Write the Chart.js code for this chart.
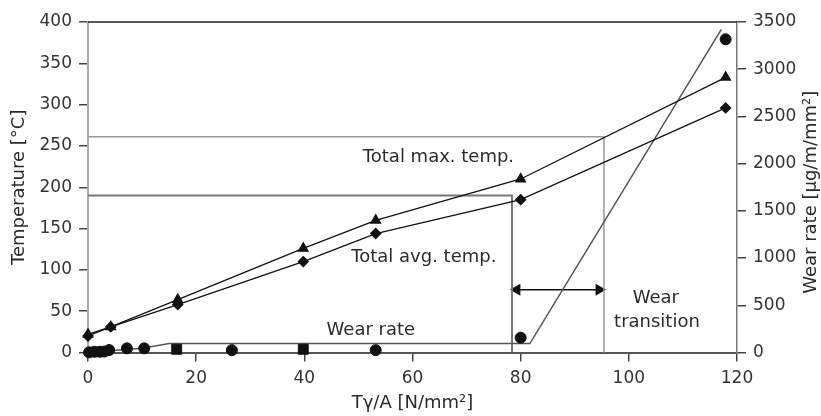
<!DOCTYPE html>
<html>
<head>
<meta charset="utf-8">
<script src="https://cdn.jsdelivr.net/npm/chart.js@4.4.0/dist/chart.umd.min.js"></script>
<style>
  html, body { margin: 0; padding: 0; background: #fff; }
  #box { width: 821px; height: 416px; }
</style>
</head>
<body>
<div id="box"><canvas id="wearChart"></canvas></div>
<script>
// Temperatures (left axis)
const loadX = [0, 4.2, 16.6, 39.8, 53.2, 80, 117.9];
const maxTemp = [22, 31, 64, 126, 160, 210, 333];
const avgTemp = [20, 31, 58, 110, 144, 185, 296];

// Wear rate measurements (right axis)
const wearX = [0.2, 1.2, 2.2, 3.0, 3.9, 7.2, 10.4, 16.4, 26.6, 39.8, 53.2, 80, 117.9];
const wearRate = [2, 8, 8, 10, 26, 44, 44, 34, 25, 34, 25, 157, 3317];
const wearStyle = ['circle', 'circle', 'circle', 'circle', 'circle', 'circle', 'circle', 'rect', 'circle', 'rect', 'circle', 'circle', 'circle'];
const wearSize = [5.5, 5.5, 5.5, 5.5, 5.5, 5.5, 5.5, 7, 5.5, 7, 5.5, 5.5, 5.5];

// Wear rate trend line (right axis)
const wearFitX = [0, 10, 15, 81.7, 117.1];
const wearFitY = [0, 45, 95, 95, 3423];

// Transition guide lines (left axis)
const startGuideX = [0, 78.4, 78.4];
const startGuideY = [190, 190, 0];
const endGuideX = [0, 95.4, 95.4];
const endGuideY = [261, 261, 0];
const arrowX = [79.3, 94.5];
const arrowY = [76, 76];

// Ticks
const xTicks = [0, 20, 40, 60, 80, 100, 120];
const tempTicks = [0, 50, 100, 150, 200, 250, 300, 350, 400];
const wearTicks = [0, 500, 1000, 1500, 2000, 2500, 3000, 3500];

// Text notes, in data units of x / left axis
const notes = [
    { text: 'Total max. temp.', x: 64.8, y: 236.5 },
    { text: 'Total avg. temp.', x: 62.1, y: 115.5 },
    { text: 'Wear rate', x: 52.3, y: 27 },
    { text: 'Wear', x: 105.0, y: 66 },
    { text: 'transition', x: 105.2, y: 37 }
];

const pts = (xs, ys) => xs.map((x, i) => ({ x: x, y: ys[i] }));
const FONT = 'DejaVu Sans';
const TEXT = '#2b2b2b';

const extras = {
    id: 'extras',
    afterDraw(chart) {
        const { ctx, chartArea, scales } = chart;
        ctx.save();
        // top frame line
        ctx.strokeStyle = '#222';
        ctx.lineWidth = 1.5;
        ctx.beginPath();
        ctx.moveTo(chartArea.left, chartArea.top);
        ctx.lineTo(chartArea.right, chartArea.top);
        ctx.stroke();
        // notes
        ctx.font = '18px "' + FONT + '"';
        ctx.fillStyle = TEXT;
        ctx.textAlign = 'center';
        ctx.textBaseline = 'middle';
        notes.forEach(n => {
            ctx.fillText(n.text, scales.x.getPixelForValue(n.x), scales.y.getPixelForValue(n.y));
        });
        // right axis title, reading upwards
        ctx.translate(chart.width - 10, (chartArea.top + chartArea.bottom) / 2 + 5);
        ctx.rotate(-Math.PI / 2);
        ctx.fillText('Wear rate [μg/m/mm²]', 0, 0);
        ctx.restore();
    }
};

const tickOpts = { font: { family: FONT, size: 17 }, color: '#333', padding: 7, callback: v => String(v) };
const gridOpts = { drawOnChartArea: false, drawTicks: true, tickLength: 9, color: '#444', lineWidth: 1.5 };

const ctx = document.getElementById('wearChart').getContext('2d');
const wearChart = new Chart(ctx, {
    type: 'scatter',
    data: {
        datasets: [
            {
                label: 'Total max. temp.',
                data: pts(loadX, maxTemp),
                yAxisID: 'y',
                showLine: true,
                borderColor: '#111',
                borderWidth: 1.3,
                backgroundColor: '#111',
                pointStyle: 'triangle',
                pointRadius: 5.5,
                clip: false
            },
            {
                label: 'Total avg. temp.',
                data: pts(loadX, avgTemp),
                yAxisID: 'y',
                showLine: true,
                borderColor: '#111',
                borderWidth: 1.3,
                backgroundColor: '#111',
                pointStyle: 'rectRot',
                pointRadius: 5,
                clip: false
            },
            {
                label: 'Wear rate',
                data: pts(wearX, wearRate),
                yAxisID: 'wear',
                showLine: false,
                backgroundColor: '#111',
                borderColor: '#111',
                pointStyle: wearStyle,
                pointRadius: wearSize,
                clip: false
            },
            {
                label: 'Wear trend',
                data: pts(wearFitX, wearFitY),
                yAxisID: 'wear',
                showLine: true,
                borderColor: '#555',
                borderWidth: 1.5,
                pointRadius: 0,
                clip: false
            },
            {
                label: 'Transition start',
                data: pts(startGuideX, startGuideY),
                yAxisID: 'y',
                showLine: true,
                borderColor: '#777',
                borderWidth: 2,
                pointRadius: 0,
                clip: false
            },
            {
                label: 'Transition end',
                data: pts(endGuideX, endGuideY),
                yAxisID: 'y',
                showLine: true,
                borderColor: '#999',
                borderWidth: 1.5,
                pointRadius: 0,
                clip: false
            },
            {
                label: 'Arrow',
                data: pts(arrowX, arrowY),
                yAxisID: 'y',
                showLine: true,
                borderColor: '#111',
                borderWidth: 1.5,
                backgroundColor: '#111',
                pointStyle: 'triangle',
                pointRotation: [-90, 90],
                pointRadius: 5.5,
                clip: false
            }
        ]
    },
    options: {
        responsive: true,
        maintainAspectRatio: false,
        animation: false,
        layout: { padding: { top: 22, left: 0, right: 0, bottom: 0 } },
        plugins: {
            legend: { display: false },
            tooltip: { enabled: false }
        },
        scales: {
            x: {
                type: 'linear',
                min: 0,
                max: 120,
                afterBuildTicks: s => { s.ticks = xTicks.map(v => ({ value: v })); },
                afterFit: s => { s.height = 63.5; },
                ticks: tickOpts,
                grid: gridOpts,
                border: { display: true, color: '#555', width: 2 },
                title: {
                    display: true,
                    text: 'Tγ/A [N/mm²]',
                    color: TEXT,
                    font: { family: FONT, size: 18 },
                    padding: { top: 0, bottom: 2 }
                }
            },
            y: {
                type: 'linear',
                position: 'left',
                min: 0,
                max: 400,
                afterBuildTicks: s => { s.ticks = tempTicks.map(v => ({ value: v })); },
                afterFit: s => { s.width = 88; },
                ticks: tickOpts,
                grid: gridOpts,
                border: { display: true, color: '#aaa', width: 2 },
                title: {
                    display: true,
                    text: 'Temperature [°C]',
                    color: TEXT,
                    font: { family: FONT, size: 18 },
                    padding: { top: 9, bottom: 0 }
                }
            },
            wear: {
                type: 'linear',
                position: 'right',
                min: 0,
                max: 3500,
                afterBuildTicks: s => { s.ticks = wearTicks.map(v => ({ value: v })); },
                afterFit: s => { s.width = 84; },
                ticks: tickOpts,
                grid: gridOpts,
                border: { display: true, color: '#777', width: 1.5 }
            }
        }
    },
    plugins: [extras]
});
</script>
</body>
</html>
